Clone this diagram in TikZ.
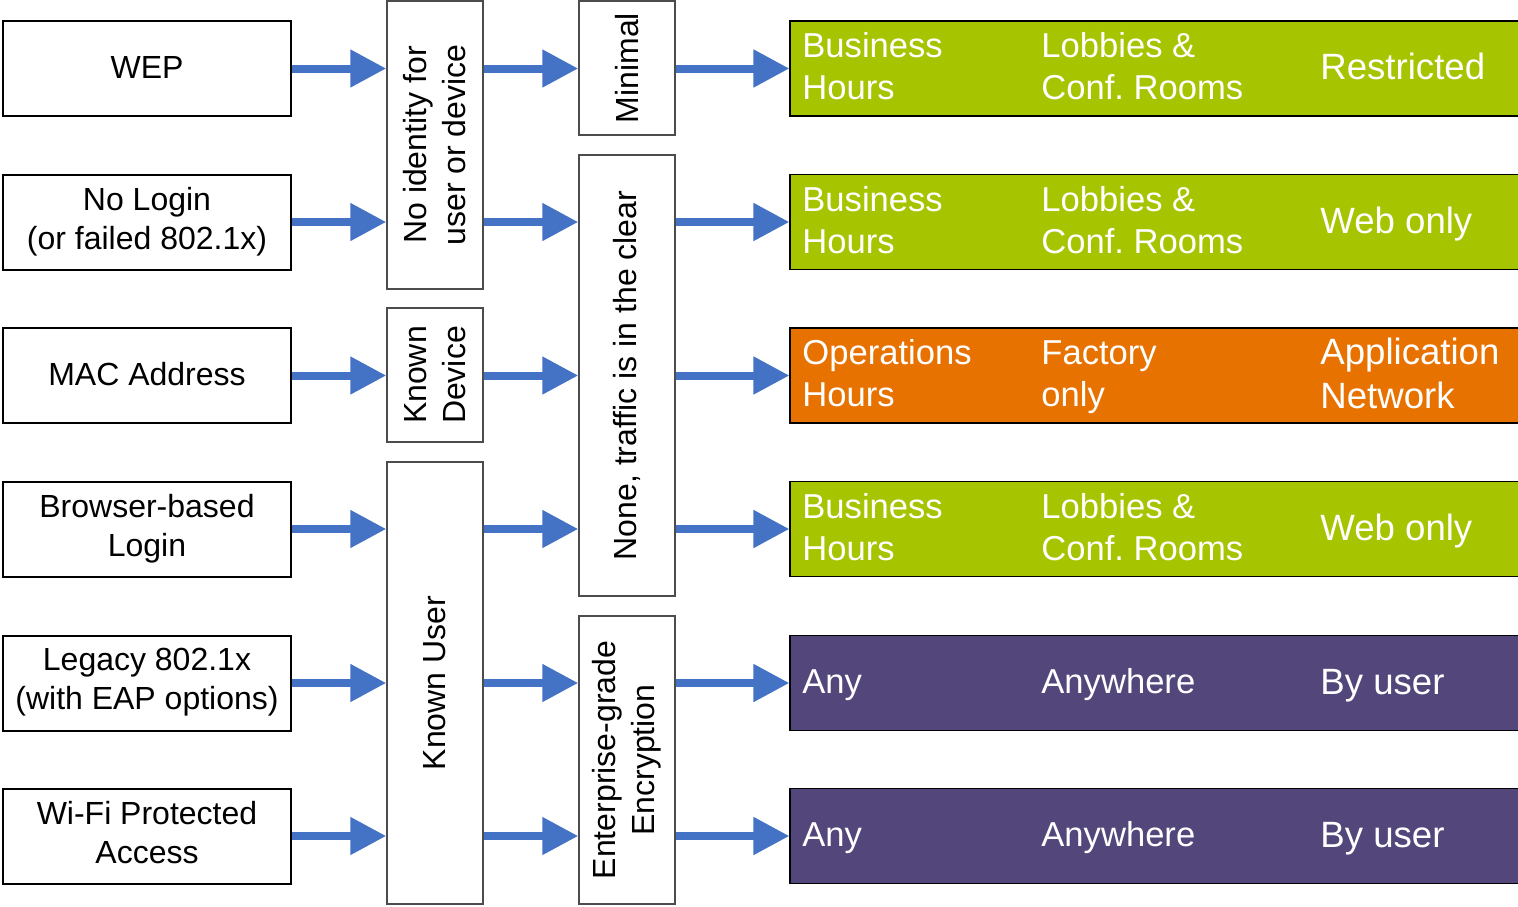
\documentclass[tikz,border=0pt]{standalone}
\usepackage{fontspec}
\setmainfont{Liberation Sans}
\usetikzlibrary{positioning,calc,arrows.meta}
\definecolor{flowblue}{RGB}{68,114,196}
\definecolor{zonegreen}{RGB}{166,196,0}
\definecolor{zoneorange}{RGB}{232,114,0}
\definecolor{zonepurple}{RGB}{83,70,122}
\frenchspacing
\newcommand\capstrut{\rule{0pt}{0.875em}}
\newcommand\dropstrut{\rule[-0.25em]{0pt}{0.25em}}

\begin{document}
\begin{tikzpicture}[x=0.5pt,y=-0.5pt,
  every node/.style={font=\fontsize{16pt}{19.5pt}\selectfont},
  srcbox/.style={draw,line width=1pt,minimum width=144pt,minimum height=47.5pt,align=center,inner sep=0pt,
    execute at begin node=\capstrut,execute at end node=\dropstrut},
  midbox/.style={draw=black!70,line width=0.75pt,rotate=90,minimum height=48pt,align=center,inner sep=0pt},
  zonebox/.style={draw=black,line width=0.6pt,minimum width=370pt,minimum height=47.5pt,inner sep=0pt},
  zonetxt/.style={text=white,anchor=west,align=left,inner sep=0pt,font=\fontsize{17.3pt}{21pt}\selectfont,
    execute at begin node=\capstrut,execute at end node=\dropstrut},
  zonebig/.style={zonetxt,font=\fontsize{18.3pt}{22pt}\selectfont},
  flow/.style={flowblue,line width=4pt,-{Triangle[length=18pt,width=18pt]}}]
\useasboundingbox (0,0) rectangle (1518,906);
\clip (0,0) rectangle (1518,906);
%login methods
\node[srcbox] (src1) at (147,68.5) {WEP};
\node[srcbox] (src2) at (147,222) {No Login\\(or failed 802.1x)};
\node[srcbox] (src3) at (147,375.5) {MAC Address};
\node[srcbox] (src4) at (147,529) {Browser-based\\Login};
\node[srcbox] (src5) at (147,683) {Legacy 802.1x\\(with EAP options)};
\node[srcbox] (src6) at (147,836) {Wi-Fi Protected\\Access};
%identity
\node[midbox,minimum width=144pt] (noid) at (435,145) {No identity for\\user or device};
\node[midbox,minimum width=67pt] (kdev) at (435,375) {Known\\Device};
\node[midbox,minimum width=221pt] (kuser) at (435,683) {Known User};
%encryption
\node[midbox,minimum width=67pt] (min) at (627,68) {Minimal};
\node[midbox,minimum width=220.5pt] (none) at (627,375.5) {None, traffic is in the clear};
\node[midbox,minimum width=144pt] (enc) at (627,760) {Enterprise-grade\\Encryption};
%access zones (box y / text y / right text y)
\foreach \yy/\ty/\wy/\fillc/\when/\where/\what [count=\i] in {
  68.5/70.5/68.5/zonegreen/{Business\\Hours}/{Lobbies \&\\Conf. Rooms}/Restricted,
  222/224/222/zonegreen/{Business\\Hours}/{Lobbies \&\\Conf. Rooms}/Web only,
  375.5/377.5/377.5/zoneorange/{Operations\\Hours}/{Factory\\only}/{Application\\Network},
  529/531/529/zonegreen/{Business\\Hours}/{Lobbies \&\\Conf. Rooms}/Web only,
  683/683/683/zonepurple/Any/Anywhere/By user,
  836/836/836/zonepurple/Any/Anywhere/By user}
{
  \node[zonebox,fill=\fillc] (zone\i) at (1160,\yy) {};
  \node[zonetxt] (when\i) at (802,\ty) {\when};
  \node[zonetxt] (where\i) at (1041,\ty) {\where};
  \node[zonebig] (what\i) at (1320,\wy) {\what};
}
%arrows
\foreach \i/\t in {1/noid,2/noid,3/kdev,4/kuser,5/kuser,6/kuser}
  \draw[flow] (src\i.east) -- (src\i.east -| \t.north);
\foreach \i/\s/\t in {1/noid/min,2/noid/none,3/kdev/none,4/kuser/none,5/kuser/enc,6/kuser/enc}
  \draw[flow] (\s.south |- src\i.east) -- (\t.north |- src\i.east);
\foreach \i/\s in {1/min,2/none,3/none,4/none,5/enc,6/enc}
  \draw[flow] (\s.south |- zone\i.west) -- (zone\i.west);
\end{tikzpicture}
\end{document}
